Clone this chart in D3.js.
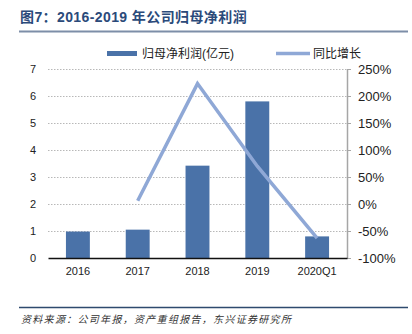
<!DOCTYPE html>
<html><head><meta charset="utf-8">
<script src="https://cdn.jsdelivr.net/npm/d3@7"></script>
<style>body{margin:0;background:#fff}svg{display:block}</style>
</head><body><svg id="c" width="412" height="334"></svg>
<script>
const categories = ["2016","2017","2018","2019","2020Q1"];
const profit = [0.98, 1.05, 3.42, 5.80, 0.80];
const growth = [null, 6, 223, 70, -63];
const leftTicks = [0,1,2,3,4,5,6,7];
const rightTicks = [-100,-50,0,50,100,150,200,250];
const title = "图7：2016-2019 年公司归母净利润";
const source = "资料来源：公司年报，资产重组报告，东兴证券研究所";
const legendLabels = ["归母净利润(亿元)", "同比增长"];

const svg = d3.select("#c");
const font = "'Liberation Sans', Arial, 'Noto Sans CJK SC', sans-serif";
const barColor = "#4a72a8", lineColor = "#8fa8d6";
const L = 48, R = 347, T = 69, B = 258;

const x = d3.scaleBand().domain(categories).range([L, R]).paddingInner(0.6).paddingOuter(0.3);
const yL = d3.scaleLinear().domain([0, 7]).range([B, T]);
const yR = d3.scaleLinear().domain([-100, 250]).range([B, T]);

// title
svg.append("text").attr("x", 20).attr("y", 22).text(title)
  .attr("font-family", font).attr("letter-spacing", 0.4)
  .attr("font-weight", "bold").attr("font-size", 14).attr("fill", "#2b4a7a");
svg.append("line").attr("x1", 19).attr("x2", 408).attr("y1", 31.5).attr("y2", 31.5)
  .attr("stroke", "#7d8ea8").attr("stroke-width", 2);

// legend
svg.append("rect").attr("x", 107).attr("y", 51).attr("width", 30).attr("height", 5).attr("fill", barColor);
svg.append("text").attr("x", 142).attr("y", 58).text(legendLabels[0])
  .attr("font-family", font).attr("font-size", 12).attr("fill", "#222");
svg.append("line").attr("x1", 276).attr("x2", 310).attr("y1", 53.5).attr("y2", 53.5)
  .attr("stroke", lineColor).attr("stroke-width", 3.5);
svg.append("text").attr("x", 313).attr("y", 58).text(legendLabels[1])
  .attr("font-family", font).attr("font-size", 12).attr("fill", "#222");

// gridlines
svg.append("g").selectAll("line").data(leftTicks.filter(d => d > 0)).join("line")
  .attr("x1", L).attr("x2", R).attr("y1", d => Math.round(yL(d)) + 0.5).attr("y2", d => Math.round(yL(d)) + 0.5)
  .attr("stroke", "#b8b8b8").attr("stroke-width", 1).attr("stroke-dasharray", "1.5,1.5");

// left axis
const gl = svg.append("g").attr("transform", `translate(${L},0)`)
  .call(d3.axisLeft(yL).tickValues(leftTicks).tickSize(0).tickPadding(12).tickFormat(d3.format("d")));
gl.select(".domain").remove();
gl.selectAll("text").attr("font-family", font).attr("font-size", 11).attr("fill", "#222");

// right axis
const gr = svg.append("g").attr("transform", `translate(${R},0)`)
  .call(d3.axisRight(yR).tickValues(rightTicks).tickSize(4).tickSizeOuter(0).tickPadding(7).tickFormat(d => d + "%"));
gr.select(".domain").attr("stroke", "#a6a6a6").attr("stroke-width", 1.5);
gr.selectAll(".tick line").attr("stroke", "#a6a6a6");
gr.selectAll("text").attr("font-family", font).attr("font-size", 13).attr("fill", "#222");

// bars
svg.append("g").selectAll("rect").data(categories).join("rect")
  .attr("x", d => x(d)).attr("width", x.bandwidth())
  .attr("y", (d, i) => yL(profit[i])).attr("height", (d, i) => yL(0) - yL(profit[i]))
  .attr("fill", barColor);

// bottom axis
const gb = svg.append("g").attr("transform", `translate(0,${B})`)
  .call(d3.axisBottom(x).tickSize(0).tickPadding(9));
gb.select(".domain").attr("stroke", "#111").attr("stroke-width", 1.5);
gb.selectAll("text").attr("font-family", font).attr("font-size", 11).attr("fill", "#222");

// line
const pts = categories.map((c, i) => ({c, v: growth[i]})).filter(d => d.v !== null);
svg.append("path").datum(pts)
  .attr("d", d3.line().x(d => x(d.c) + x.bandwidth() / 2).y(d => yR(d.v)))
  .attr("fill", "none").attr("stroke", lineColor).attr("stroke-width", 3.5);

// source
svg.append("line").attr("x1", 19).attr("x2", 408).attr("y1", 307.5).attr("y2", 307.5)
  .attr("stroke", "#2e4a6e").attr("stroke-width", 1.5);
svg.append("text").attr("x", 21).attr("y", 323).text(source)
  .attr("font-family", "'Noto Sans CJK SC', sans-serif").attr("font-style", "italic")
  .attr("letter-spacing", 1.3)
  .attr("font-size", 10).attr("fill", "#333");
</script></body></html>
